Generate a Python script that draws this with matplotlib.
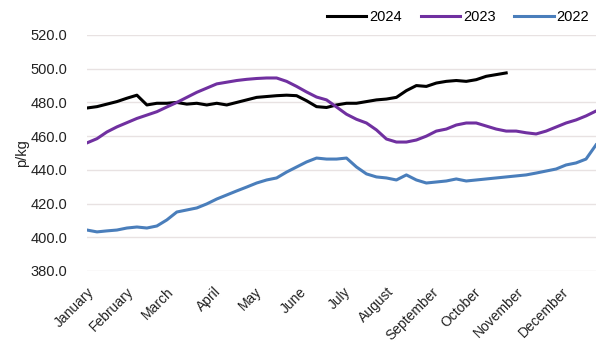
import numpy as np
import matplotlib
matplotlib.use('Agg')
import matplotlib.pyplot as plt

plt.rcParams['font.family'] = ['Liberation Sans', 'DejaVu Sans']

# weekly prices, p/kg
p2024 = [476.7, 477.5, 479.0, 480.5, 482.5, 484.3, 478.5, 479.5, 479.5, 480.0,
         479.0, 479.5, 478.5, 479.5, 478.5, 480.0, 481.5, 483.0, 483.5, 484.0,
         484.3, 484.0, 481.0, 477.5, 477.0, 478.5, 479.5, 479.5, 480.5, 481.5,
         482.0, 483.0, 487.0, 490.0, 489.5, 491.5, 492.5, 493.0, 492.5, 493.5,
         495.5, 496.5, 497.5]
p2023 = [456.0, 458.5, 462.5, 465.5, 468.0, 470.5, 472.5, 474.5, 477.3, 480.0,
         483.0, 486.0, 488.5, 491.0, 492.0, 493.0, 493.7, 494.2, 494.5, 494.5,
         492.5, 489.5, 486.2, 483.2, 481.5, 477.3, 473.0, 470.0, 467.8, 463.7,
         458.3, 456.5, 456.5, 457.7, 460.0, 463.0, 464.2, 466.6, 467.8, 467.8,
         466.0, 464.2, 463.0, 463.0, 462.0, 461.3, 463.0, 465.4, 467.8, 469.6,
         472.0, 474.9]
p2022 = [404.3, 403.2, 403.8, 404.3, 405.5, 406.1, 405.5, 406.7, 410.3, 415.0,
         416.2, 417.4, 419.8, 422.7, 425.1, 427.5, 429.8, 432.2, 434.0, 435.2,
         438.7, 441.7, 444.7, 447.0, 446.4, 446.4, 447.0, 441.7, 437.6, 435.8,
         435.2, 434.0, 437.0, 434.0, 432.2, 432.8, 433.4, 434.6, 433.4, 434.0,
         434.6, 435.2, 435.8, 436.4, 437.0, 438.1, 439.3, 440.5, 442.9, 444.1,
         446.4, 454.8]

months = ['January', 'February', 'March', 'April', 'May', 'June', 'July',
          'August', 'September', 'October', 'November', 'December']
month_week = [0, 4, 8, 12.7, 16.8, 21.3, 25.7, 30, 34.5, 38.7, 43, 47.5]
yticks = [380, 400, 420, 440, 460, 480, 500, 520]

fig = plt.figure(figsize=(5.96, 3.48), dpi=100)
ax = fig.add_axes([87/596, 1-271/348, 509/596, 236/348])

ax.plot(np.arange(len(p2024)), p2024, color='black', lw=2.2, label='2024')
ax.plot(np.arange(len(p2023)), p2023, color='#7030A0', lw=2.2, label='2023')
ax.plot(np.arange(len(p2022)), p2022, color='#4A7EBB', lw=2.2, label='2022')

ax.set_xlim(0, 51)
ax.set_ylim(380, 520)
ax.set_yticks(yticks)
ax.set_yticklabels(['%.1f' % v for v in yticks])
ax.set_xticks(month_week)
ax.set_xticklabels(months, rotation=45, ha='right', rotation_mode='anchor')
ax.tick_params(axis='y', length=0, pad=14, labelsize=10.5, labelcolor='#222222')
ax.tick_params(axis='x', length=0, pad=10, labelsize=10, labelcolor='#222222')
ax.grid(axis='y', color='#e8e2e2', lw=1)
ax.set_axisbelow(True)
for s in ax.spines.values():
    s.set_visible(False)
ax.set_ylabel('p/kg', fontsize=10.5, color='#222222', labelpad=1)

fig.legend(loc='center', bbox_to_anchor=(458/596, 1-17/348), ncol=3,
           frameon=False, fontsize=10.5, handlelength=2.7, handletextpad=0.2,
           columnspacing=1.3)

fig.savefig('out.png', dpi=100)
